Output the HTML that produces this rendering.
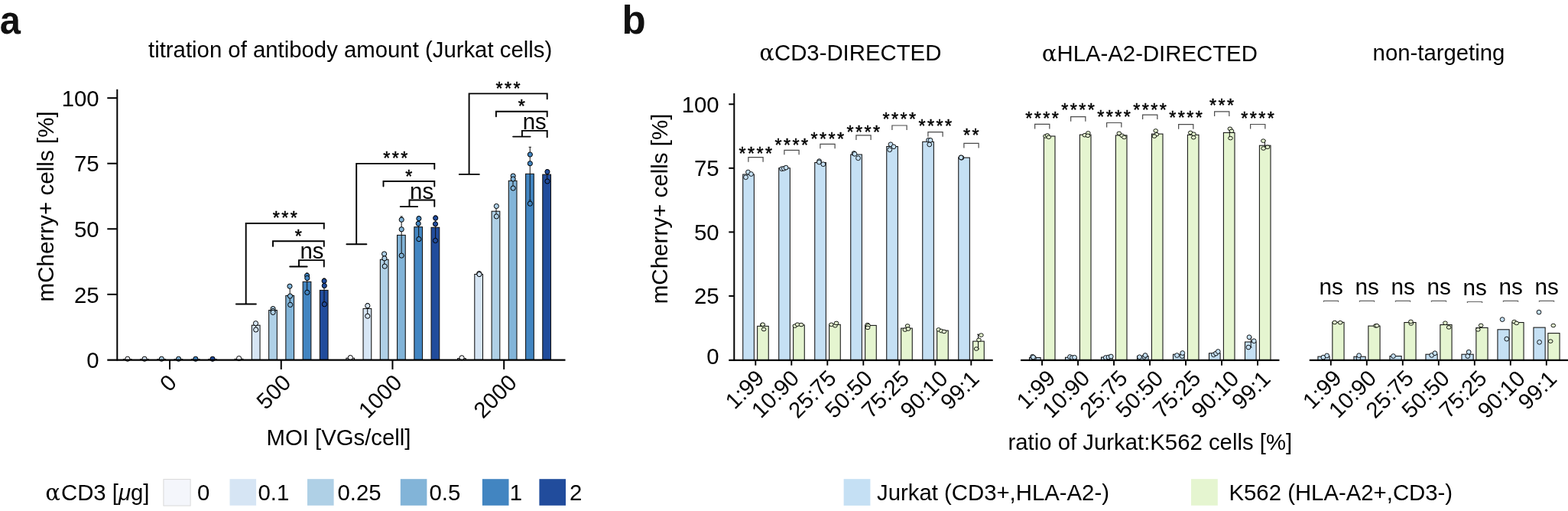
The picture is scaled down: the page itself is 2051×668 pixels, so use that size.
<!DOCTYPE html>
<html><head><meta charset="utf-8"><title>figure</title>
<style>
html,body{margin:0;padding:0;background:#fff;}
body{width:2051px;height:668px;overflow:hidden;}
svg{display:block;font-family:"Liberation Sans",sans-serif;fill:#000;}
</style></head><body>
<svg width="2051" height="668" viewBox="0 0 2051 668">
<rect width="2051" height="668" fill="#fff"/>
<text transform="translate(-0.2,43.9) scale(0.95,1)" font-size="51.5" font-weight="bold" fill="#111">a</text>
<text x="458.10" y="74.80" text-anchor="middle" font-size="29.33">titration of antibody amount (Jurkat cells)</text>
<line x1="153.30" y1="116.80" x2="153.30" y2="471.40" stroke="#000" stroke-width="2" stroke-linecap="butt"/>
<text x="129.60" y="481.10" text-anchor="end" font-size="29.33">0</text>
<line x1="140.30" y1="384.84" x2="153.30" y2="384.84" stroke="#000" stroke-width="2" stroke-linecap="butt"/>
<text x="129.60" y="395.54" text-anchor="end" font-size="29.33">25</text>
<line x1="140.30" y1="299.27" x2="153.30" y2="299.27" stroke="#000" stroke-width="2" stroke-linecap="butt"/>
<text x="129.60" y="309.97" text-anchor="end" font-size="29.33">50</text>
<line x1="140.30" y1="213.71" x2="153.30" y2="213.71" stroke="#000" stroke-width="2" stroke-linecap="butt"/>
<text x="129.60" y="224.41" text-anchor="end" font-size="29.33">75</text>
<line x1="140.30" y1="128.15" x2="153.30" y2="128.15" stroke="#000" stroke-width="2" stroke-linecap="butt"/>
<text x="129.60" y="138.85" text-anchor="end" font-size="29.33">100</text>
<line x1="222.00" y1="470.40" x2="222.00" y2="482.90" stroke="#000" stroke-width="2" stroke-linecap="butt"/>
<text transform="translate(217.95,487.10) rotate(-45)" text-anchor="end" font-size="29.33" dy="0.72em">0</text>
<line x1="367.75" y1="470.40" x2="367.75" y2="482.90" stroke="#000" stroke-width="2" stroke-linecap="butt"/>
<text transform="translate(367.30,487.10) rotate(-45)" text-anchor="end" font-size="29.33" dy="0.72em">500</text>
<line x1="513.45" y1="470.40" x2="513.45" y2="482.90" stroke="#000" stroke-width="2" stroke-linecap="butt"/>
<text transform="translate(512.50,487.10) rotate(-45)" text-anchor="end" font-size="29.33" dy="0.72em">1000</text>
<line x1="659.20" y1="470.40" x2="659.20" y2="482.90" stroke="#000" stroke-width="2" stroke-linecap="butt"/>
<text transform="translate(662.95,487.10) rotate(-45)" text-anchor="end" font-size="29.33" dy="0.72em">2000</text>
<text transform="translate(69.50,269.90) rotate(-90)" text-anchor="middle" font-size="29.6">mCherry+ cells [%]</text>
<text x="443.00" y="581.60" text-anchor="middle" font-size="29.33">MOI [VGs/cell]</text>
<rect x="161.40" y="469.60" width="10.70" height="0.80" fill="#F4F6FB" stroke="#111" stroke-width="1.05"/>
<circle cx="166.85" cy="469.20" r="3.1" fill="#F4F6FB" stroke="#000" stroke-width="1.0"/>
<rect x="183.60" y="469.60" width="10.70" height="0.80" fill="#D6E5F4" stroke="#111" stroke-width="1.05"/>
<circle cx="189.05" cy="469.20" r="3.1" fill="#D6E5F4" stroke="#000" stroke-width="1.0"/>
<rect x="205.90" y="469.60" width="10.70" height="0.80" fill="#AFD0E6" stroke="#111" stroke-width="1.05"/>
<circle cx="211.35" cy="469.20" r="3.1" fill="#AFD0E6" stroke="#000" stroke-width="1.0"/>
<rect x="228.10" y="469.60" width="10.70" height="0.80" fill="#82B4D8" stroke="#111" stroke-width="1.05"/>
<circle cx="233.55" cy="469.20" r="3.1" fill="#82B4D8" stroke="#000" stroke-width="1.0"/>
<rect x="250.40" y="469.60" width="10.70" height="0.80" fill="#4285C1" stroke="#111" stroke-width="1.05"/>
<circle cx="255.85" cy="469.20" r="3.1" fill="#4285C1" stroke="#000" stroke-width="1.0"/>
<rect x="272.60" y="469.60" width="10.70" height="0.80" fill="#214C9C" stroke="#111" stroke-width="1.05"/>
<circle cx="278.05" cy="469.20" r="3.1" fill="#214C9C" stroke="#000" stroke-width="1.0"/>
<rect x="307.15" y="469.30" width="10.70" height="1.10" fill="#F4F6FB" stroke="#111" stroke-width="1.05"/>
<circle cx="312.60" cy="468.50" r="3.1" fill="#F4F6FB" stroke="#000" stroke-width="1.0"/>
<rect x="329.35" y="425.20" width="10.70" height="45.20" fill="#D6E5F4" stroke="#111" stroke-width="1.05"/>
<line x1="334.70" y1="420.50" x2="334.70" y2="430.00" stroke="#111" stroke-width="1" stroke-linecap="butt"/>
<line x1="333.10" y1="420.50" x2="336.30" y2="420.50" stroke="#111" stroke-width="1" stroke-linecap="butt"/>
<line x1="333.10" y1="430.00" x2="336.30" y2="430.00" stroke="#111" stroke-width="1" stroke-linecap="butt"/>
<circle cx="334.50" cy="422.70" r="3.1" fill="#D6E5F4" stroke="#000" stroke-width="1.0"/>
<circle cx="334.70" cy="431.00" r="3.1" fill="#D6E5F4" stroke="#000" stroke-width="1.0"/>
<rect x="351.65" y="405.50" width="10.70" height="64.90" fill="#AFD0E6" stroke="#111" stroke-width="1.05"/>
<line x1="357.15" y1="403.00" x2="357.15" y2="408.00" stroke="#111" stroke-width="1" stroke-linecap="butt"/>
<line x1="355.55" y1="403.00" x2="358.75" y2="403.00" stroke="#111" stroke-width="1" stroke-linecap="butt"/>
<line x1="355.55" y1="408.00" x2="358.75" y2="408.00" stroke="#111" stroke-width="1" stroke-linecap="butt"/>
<circle cx="357.10" cy="403.60" r="3.1" fill="#AFD0E6" stroke="#000" stroke-width="1.0"/>
<circle cx="357.10" cy="406.50" r="3.1" fill="#AFD0E6" stroke="#000" stroke-width="1.0"/>
<circle cx="357.10" cy="408.40" r="3.1" fill="#AFD0E6" stroke="#000" stroke-width="1.0"/>
<rect x="373.85" y="386.40" width="10.70" height="84.00" fill="#82B4D8" stroke="#111" stroke-width="1.05"/>
<line x1="379.20" y1="374.50" x2="379.20" y2="398.00" stroke="#111" stroke-width="1" stroke-linecap="butt"/>
<line x1="377.60" y1="374.50" x2="380.80" y2="374.50" stroke="#111" stroke-width="1" stroke-linecap="butt"/>
<line x1="377.60" y1="398.00" x2="380.80" y2="398.00" stroke="#111" stroke-width="1" stroke-linecap="butt"/>
<circle cx="379.00" cy="374.20" r="3.1" fill="#82B4D8" stroke="#000" stroke-width="1.0"/>
<circle cx="379.50" cy="387.00" r="3.1" fill="#82B4D8" stroke="#000" stroke-width="1.0"/>
<circle cx="379.70" cy="398.40" r="3.1" fill="#82B4D8" stroke="#000" stroke-width="1.0"/>
<rect x="396.15" y="368.30" width="10.70" height="102.10" fill="#4285C1" stroke="#111" stroke-width="1.05"/>
<line x1="401.65" y1="357.00" x2="401.65" y2="380.00" stroke="#111" stroke-width="1" stroke-linecap="butt"/>
<line x1="400.05" y1="357.00" x2="403.25" y2="357.00" stroke="#111" stroke-width="1" stroke-linecap="butt"/>
<line x1="400.05" y1="380.00" x2="403.25" y2="380.00" stroke="#111" stroke-width="1" stroke-linecap="butt"/>
<circle cx="401.60" cy="360.30" r="3.1" fill="#4285C1" stroke="#000" stroke-width="1.0"/>
<circle cx="401.80" cy="363.50" r="3.1" fill="#4285C1" stroke="#000" stroke-width="1.0"/>
<circle cx="401.80" cy="382.30" r="3.1" fill="#4285C1" stroke="#000" stroke-width="1.0"/>
<rect x="418.35" y="379.40" width="10.70" height="91.00" fill="#214C9C" stroke="#111" stroke-width="1.05"/>
<line x1="424.00" y1="364.00" x2="424.00" y2="395.00" stroke="#111" stroke-width="1" stroke-linecap="butt"/>
<line x1="422.40" y1="364.00" x2="425.60" y2="364.00" stroke="#111" stroke-width="1" stroke-linecap="butt"/>
<line x1="422.40" y1="395.00" x2="425.60" y2="395.00" stroke="#111" stroke-width="1" stroke-linecap="butt"/>
<circle cx="424.10" cy="367.30" r="3.1" fill="#214C9C" stroke="#000" stroke-width="1.0"/>
<circle cx="424.30" cy="373.50" r="3.1" fill="#214C9C" stroke="#000" stroke-width="1.0"/>
<circle cx="424.40" cy="397.70" r="3.1" fill="#214C9C" stroke="#000" stroke-width="1.0"/>
<rect x="452.85" y="468.20" width="10.70" height="2.20" fill="#F4F6FB" stroke="#111" stroke-width="1.05"/>
<circle cx="458.30" cy="467.50" r="3.1" fill="#F4F6FB" stroke="#000" stroke-width="1.0"/>
<rect x="475.05" y="403.40" width="10.70" height="67.00" fill="#D6E5F4" stroke="#111" stroke-width="1.05"/>
<line x1="480.70" y1="396.50" x2="480.70" y2="410.50" stroke="#111" stroke-width="1" stroke-linecap="butt"/>
<line x1="479.10" y1="396.50" x2="482.30" y2="396.50" stroke="#111" stroke-width="1" stroke-linecap="butt"/>
<line x1="479.10" y1="410.50" x2="482.30" y2="410.50" stroke="#111" stroke-width="1" stroke-linecap="butt"/>
<circle cx="480.80" cy="399.70" r="3.1" fill="#D6E5F4" stroke="#000" stroke-width="1.0"/>
<circle cx="480.80" cy="413.20" r="3.1" fill="#D6E5F4" stroke="#000" stroke-width="1.0"/>
<rect x="497.35" y="339.30" width="10.70" height="131.10" fill="#AFD0E6" stroke="#111" stroke-width="1.05"/>
<line x1="502.75" y1="331.00" x2="502.75" y2="347.50" stroke="#111" stroke-width="1" stroke-linecap="butt"/>
<line x1="501.15" y1="331.00" x2="504.35" y2="331.00" stroke="#111" stroke-width="1" stroke-linecap="butt"/>
<line x1="501.15" y1="347.50" x2="504.35" y2="347.50" stroke="#111" stroke-width="1" stroke-linecap="butt"/>
<circle cx="502.60" cy="331.90" r="3.1" fill="#AFD0E6" stroke="#000" stroke-width="1.0"/>
<circle cx="502.90" cy="337.80" r="3.1" fill="#AFD0E6" stroke="#000" stroke-width="1.0"/>
<circle cx="503.20" cy="348.10" r="3.1" fill="#AFD0E6" stroke="#000" stroke-width="1.0"/>
<rect x="519.55" y="307.40" width="10.70" height="163.00" fill="#82B4D8" stroke="#111" stroke-width="1.05"/>
<line x1="525.15" y1="283.00" x2="525.15" y2="332.00" stroke="#111" stroke-width="1" stroke-linecap="butt"/>
<line x1="523.55" y1="283.00" x2="526.75" y2="283.00" stroke="#111" stroke-width="1" stroke-linecap="butt"/>
<line x1="523.55" y1="332.00" x2="526.75" y2="332.00" stroke="#111" stroke-width="1" stroke-linecap="butt"/>
<circle cx="525.20" cy="287.20" r="3.1" fill="#82B4D8" stroke="#000" stroke-width="1.0"/>
<circle cx="525.20" cy="299.80" r="3.1" fill="#82B4D8" stroke="#000" stroke-width="1.0"/>
<circle cx="525.20" cy="334.10" r="3.1" fill="#82B4D8" stroke="#000" stroke-width="1.0"/>
<rect x="541.85" y="296.70" width="10.70" height="173.70" fill="#4285C1" stroke="#111" stroke-width="1.05"/>
<line x1="547.65" y1="283.00" x2="547.65" y2="310.50" stroke="#111" stroke-width="1" stroke-linecap="butt"/>
<line x1="546.05" y1="283.00" x2="549.25" y2="283.00" stroke="#111" stroke-width="1" stroke-linecap="butt"/>
<line x1="546.05" y1="310.50" x2="549.25" y2="310.50" stroke="#111" stroke-width="1" stroke-linecap="butt"/>
<circle cx="547.90" cy="285.70" r="3.1" fill="#4285C1" stroke="#000" stroke-width="1.0"/>
<circle cx="547.20" cy="292.30" r="3.1" fill="#4285C1" stroke="#000" stroke-width="1.0"/>
<circle cx="547.90" cy="312.60" r="3.1" fill="#4285C1" stroke="#000" stroke-width="1.0"/>
<rect x="564.05" y="297.30" width="10.70" height="173.10" fill="#214C9C" stroke="#111" stroke-width="1.05"/>
<line x1="569.65" y1="282.00" x2="569.65" y2="312.50" stroke="#111" stroke-width="1" stroke-linecap="butt"/>
<line x1="568.05" y1="282.00" x2="571.25" y2="282.00" stroke="#111" stroke-width="1" stroke-linecap="butt"/>
<line x1="568.05" y1="312.50" x2="571.25" y2="312.50" stroke="#111" stroke-width="1" stroke-linecap="butt"/>
<circle cx="569.70" cy="285.10" r="3.1" fill="#214C9C" stroke="#000" stroke-width="1.0"/>
<circle cx="569.50" cy="292.80" r="3.1" fill="#214C9C" stroke="#000" stroke-width="1.0"/>
<circle cx="569.50" cy="314.50" r="3.1" fill="#214C9C" stroke="#000" stroke-width="1.0"/>
<rect x="598.60" y="468.60" width="10.70" height="1.80" fill="#F4F6FB" stroke="#111" stroke-width="1.05"/>
<circle cx="604.05" cy="467.80" r="3.1" fill="#F4F6FB" stroke="#000" stroke-width="1.0"/>
<rect x="620.80" y="358.50" width="10.70" height="111.90" fill="#D6E5F4" stroke="#111" stroke-width="1.05"/>
<circle cx="626.75" cy="357.60" r="3.1" fill="#D6E5F4" stroke="#000" stroke-width="1.0"/>
<circle cx="626.95" cy="358.60" r="3.1" fill="#D6E5F4" stroke="#000" stroke-width="1.0"/>
<rect x="643.10" y="276.20" width="10.70" height="194.20" fill="#AFD0E6" stroke="#111" stroke-width="1.05"/>
<line x1="649.00" y1="269.00" x2="649.00" y2="283.00" stroke="#111" stroke-width="1" stroke-linecap="butt"/>
<line x1="647.40" y1="269.00" x2="650.60" y2="269.00" stroke="#111" stroke-width="1" stroke-linecap="butt"/>
<line x1="647.40" y1="283.00" x2="650.60" y2="283.00" stroke="#111" stroke-width="1" stroke-linecap="butt"/>
<circle cx="649.35" cy="269.50" r="3.1" fill="#AFD0E6" stroke="#000" stroke-width="1.0"/>
<circle cx="649.35" cy="282.90" r="3.1" fill="#AFD0E6" stroke="#000" stroke-width="1.0"/>
<rect x="665.30" y="236.30" width="10.70" height="234.10" fill="#82B4D8" stroke="#111" stroke-width="1.05"/>
<line x1="671.00" y1="228.00" x2="671.00" y2="245.00" stroke="#111" stroke-width="1" stroke-linecap="butt"/>
<line x1="669.40" y1="228.00" x2="672.60" y2="228.00" stroke="#111" stroke-width="1" stroke-linecap="butt"/>
<line x1="669.40" y1="245.00" x2="672.60" y2="245.00" stroke="#111" stroke-width="1" stroke-linecap="butt"/>
<circle cx="671.15" cy="230.00" r="3.1" fill="#82B4D8" stroke="#000" stroke-width="1.0"/>
<circle cx="671.15" cy="234.00" r="3.1" fill="#82B4D8" stroke="#000" stroke-width="1.0"/>
<circle cx="671.15" cy="246.00" r="3.1" fill="#82B4D8" stroke="#000" stroke-width="1.0"/>
<rect x="687.60" y="227.30" width="10.70" height="243.10" fill="#4285C1" stroke="#111" stroke-width="1.05"/>
<line x1="693.25" y1="192.30" x2="693.25" y2="262.00" stroke="#111" stroke-width="1" stroke-linecap="butt"/>
<line x1="691.65" y1="192.30" x2="694.85" y2="192.30" stroke="#111" stroke-width="1" stroke-linecap="butt"/>
<line x1="691.65" y1="262.00" x2="694.85" y2="262.00" stroke="#111" stroke-width="1" stroke-linecap="butt"/>
<circle cx="693.35" cy="202.00" r="3.1" fill="#4285C1" stroke="#000" stroke-width="1.0"/>
<circle cx="693.35" cy="213.70" r="3.1" fill="#4285C1" stroke="#000" stroke-width="1.0"/>
<circle cx="693.35" cy="266.20" r="3.1" fill="#4285C1" stroke="#000" stroke-width="1.0"/>
<rect x="709.80" y="228.10" width="10.70" height="242.30" fill="#214C9C" stroke="#111" stroke-width="1.05"/>
<line x1="715.65" y1="222.00" x2="715.65" y2="234.50" stroke="#111" stroke-width="1" stroke-linecap="butt"/>
<line x1="714.05" y1="222.00" x2="717.25" y2="222.00" stroke="#111" stroke-width="1" stroke-linecap="butt"/>
<line x1="714.05" y1="234.50" x2="717.25" y2="234.50" stroke="#111" stroke-width="1" stroke-linecap="butt"/>
<circle cx="715.95" cy="224.60" r="3.1" fill="#214C9C" stroke="#000" stroke-width="1.0"/>
<circle cx="715.95" cy="237.00" r="3.1" fill="#214C9C" stroke="#000" stroke-width="1.0"/>
<line x1="140.30" y1="470.70" x2="739.50" y2="470.70" stroke="#000" stroke-width="2.2" stroke-linecap="butt"/>
<path d="M423.80,298.80 V292.00 H321.70 V397.50 M308.90,397.50 H334.90" stroke="#000" stroke-width="1.9" fill="none" stroke-linecap="round" stroke-linejoin="miter"/>
<path d="M423.80,321.90 V315.30 H357.00 V321.90" stroke="#000" stroke-width="1.9" fill="none" stroke-linecap="round" stroke-linejoin="miter"/>
<path d="M423.80,348.50 V340.10 H391.00 V348.50 M379.20,348.50 H401.70" stroke="#000" stroke-width="1.9" fill="none" stroke-linecap="round" stroke-linejoin="miter"/>
<text x="356.71 368.21 379.71" y="293.47" font-size="23.3" stroke="#000" stroke-width="0.5">***</text>
<text x="385.86" y="316.97" font-size="23.3" stroke="#000" stroke-width="0.5">*</text>
<text x="408.00" y="338.20" text-anchor="middle" font-size="29.33">ns</text>
<path d="M568.30,220.70 V213.90 H466.20 V319.20 M453.40,319.20 H479.40" stroke="#000" stroke-width="1.9" fill="none" stroke-linecap="round" stroke-linejoin="miter"/>
<path d="M568.30,243.60 V237.00 H501.50 V243.60" stroke="#000" stroke-width="1.9" fill="none" stroke-linecap="round" stroke-linejoin="miter"/>
<path d="M568.30,269.90 V261.50 H535.50 V270.10 M523.70,270.10 H546.20" stroke="#000" stroke-width="1.9" fill="none" stroke-linecap="round" stroke-linejoin="miter"/>
<text x="501.21 512.71 524.21" y="215.37" font-size="23.3" stroke="#000" stroke-width="0.5">***</text>
<text x="530.36" y="238.67" font-size="23.3" stroke="#000" stroke-width="0.5">*</text>
<text x="551.60" y="259.60" text-anchor="middle" font-size="29.33">ns</text>
<path d="M715.70,129.20 V122.40 H613.60 V227.90 M600.80,227.90 H626.80" stroke="#000" stroke-width="1.9" fill="none" stroke-linecap="round" stroke-linejoin="miter"/>
<path d="M715.70,152.30 V145.70 H648.90 V152.30" stroke="#000" stroke-width="1.9" fill="none" stroke-linecap="round" stroke-linejoin="miter"/>
<path d="M715.70,179.30 V170.90 H682.90 V178.60 M671.10,178.60 H693.60" stroke="#000" stroke-width="1.9" fill="none" stroke-linecap="round" stroke-linejoin="miter"/>
<text x="648.61 660.11 671.61" y="123.87" font-size="23.3" stroke="#000" stroke-width="0.5">***</text>
<text x="677.76" y="147.37" font-size="23.3" stroke="#000" stroke-width="0.5">*</text>
<text x="699.20" y="168.60" text-anchor="middle" font-size="29.33">ns</text>
<text x="58.50" y="653.70" text-anchor="start" font-size="29.33"><tspan font-family="'DejaVu Math TeX Gyre','DejaVu Serif',serif" font-size="29">α</tspan><tspan dx="-0.5">CD3 [</tspan><tspan font-style="italic">μ</tspan>g]</text>
<rect x="213.90" y="626.60" width="35.20" height="34.50" fill="#F4F6FB" stroke="#D9D9D9" stroke-width="1"/>
<text x="258.00" y="653.70" text-anchor="start" font-size="29.33">0</text>
<rect x="300.50" y="626.20" width="34.60" height="34.60" fill="#D6E5F4"/>
<text x="337.50" y="653.70" text-anchor="start" font-size="29.33">0.1</text>
<rect x="402.00" y="626.20" width="34.60" height="34.60" fill="#AFD0E6"/>
<text x="441.50" y="653.70" text-anchor="start" font-size="29.33">0.25</text>
<rect x="523.80" y="626.20" width="34.60" height="34.60" fill="#82B4D8"/>
<text x="561.50" y="653.70" text-anchor="start" font-size="29.33">0.5</text>
<rect x="630.90" y="626.20" width="34.60" height="34.60" fill="#4285C1"/>
<text x="666.80" y="653.70" text-anchor="start" font-size="29.33">1</text>
<rect x="705.40" y="626.20" width="34.60" height="34.60" fill="#214C9C"/>
<text x="745.00" y="653.70" text-anchor="start" font-size="29.33">2</text>
<text x="813.40" y="43.70" text-anchor="start" font-size="51" font-weight="bold" fill="#111">b</text>
<line x1="960.30" y1="122.00" x2="960.30" y2="471.50" stroke="#000" stroke-width="2" stroke-linecap="butt"/>
<text x="940.60" y="475.90" text-anchor="end" font-size="29.33">0</text>
<line x1="953.30" y1="386.94" x2="960.30" y2="386.94" stroke="#000" stroke-width="2" stroke-linecap="butt"/>
<text x="940.60" y="397.34" text-anchor="end" font-size="29.33">25</text>
<line x1="953.30" y1="303.38" x2="960.30" y2="303.38" stroke="#000" stroke-width="2" stroke-linecap="butt"/>
<text x="940.60" y="313.77" text-anchor="end" font-size="29.33">50</text>
<line x1="953.30" y1="219.81" x2="960.30" y2="219.81" stroke="#000" stroke-width="2" stroke-linecap="butt"/>
<text x="940.60" y="230.21" text-anchor="end" font-size="29.33">75</text>
<line x1="953.30" y1="136.25" x2="960.30" y2="136.25" stroke="#000" stroke-width="2" stroke-linecap="butt"/>
<text x="940.60" y="146.65" text-anchor="end" font-size="29.33">100</text>
<text transform="translate(872.60,272.90) rotate(-90)" text-anchor="middle" font-size="29.55">mCherry+ cells [%]</text>
<line x1="988.30" y1="470.50" x2="988.30" y2="477.70" stroke="#000" stroke-width="1.9" stroke-linecap="butt"/>
<text transform="translate(986.40,481.00) rotate(-45)" text-anchor="end" font-size="29.33" dy="0.72em">1:99</text>
<line x1="1035.30" y1="470.50" x2="1035.30" y2="477.70" stroke="#000" stroke-width="1.9" stroke-linecap="butt"/>
<text transform="translate(1032.20,481.20) rotate(-45)" text-anchor="end" font-size="29.33" dy="0.72em">10:90</text>
<line x1="1082.30" y1="470.50" x2="1082.30" y2="477.70" stroke="#000" stroke-width="1.9" stroke-linecap="butt"/>
<text transform="translate(1080.50,481.30) rotate(-45)" text-anchor="end" font-size="29.33" dy="0.72em">25:75</text>
<line x1="1129.30" y1="470.50" x2="1129.30" y2="477.70" stroke="#000" stroke-width="1.9" stroke-linecap="butt"/>
<text transform="translate(1128.10,481.50) rotate(-45)" text-anchor="end" font-size="29.33" dy="0.72em">50:50</text>
<line x1="1176.30" y1="470.50" x2="1176.30" y2="477.70" stroke="#000" stroke-width="1.9" stroke-linecap="butt"/>
<text transform="translate(1176.20,481.50) rotate(-45)" text-anchor="end" font-size="29.33" dy="0.72em">75:25</text>
<line x1="1223.30" y1="470.50" x2="1223.30" y2="477.70" stroke="#000" stroke-width="1.9" stroke-linecap="butt"/>
<text transform="translate(1226.60,481.70) rotate(-45)" text-anchor="end" font-size="29.33" dy="0.72em">90:10</text>
<line x1="1270.30" y1="470.50" x2="1270.30" y2="477.70" stroke="#000" stroke-width="1.9" stroke-linecap="butt"/>
<text transform="translate(1267.60,482.00) rotate(-45)" text-anchor="end" font-size="29.33" dy="0.72em">99:1</text>
<line x1="1363.05" y1="470.50" x2="1363.05" y2="477.70" stroke="#000" stroke-width="1.9" stroke-linecap="butt"/>
<text transform="translate(1367.45,481.00) rotate(-45)" text-anchor="end" font-size="29.33" dy="0.72em">1:99</text>
<line x1="1410.05" y1="470.50" x2="1410.05" y2="477.70" stroke="#000" stroke-width="1.9" stroke-linecap="butt"/>
<text transform="translate(1412.45,481.20) rotate(-45)" text-anchor="end" font-size="29.33" dy="0.72em">10:90</text>
<line x1="1457.05" y1="470.50" x2="1457.05" y2="477.70" stroke="#000" stroke-width="1.9" stroke-linecap="butt"/>
<text transform="translate(1461.55,481.30) rotate(-45)" text-anchor="end" font-size="29.33" dy="0.72em">25:75</text>
<line x1="1504.05" y1="470.50" x2="1504.05" y2="477.70" stroke="#000" stroke-width="1.9" stroke-linecap="butt"/>
<text transform="translate(1508.35,481.50) rotate(-45)" text-anchor="end" font-size="29.33" dy="0.72em">50:50</text>
<line x1="1551.05" y1="470.50" x2="1551.05" y2="477.70" stroke="#000" stroke-width="1.9" stroke-linecap="butt"/>
<text transform="translate(1557.25,481.50) rotate(-45)" text-anchor="end" font-size="29.33" dy="0.72em">75:25</text>
<line x1="1598.05" y1="470.50" x2="1598.05" y2="477.70" stroke="#000" stroke-width="1.9" stroke-linecap="butt"/>
<text transform="translate(1607.45,481.70) rotate(-45)" text-anchor="end" font-size="29.33" dy="0.72em">90:10</text>
<line x1="1645.05" y1="470.50" x2="1645.05" y2="477.70" stroke="#000" stroke-width="1.9" stroke-linecap="butt"/>
<text transform="translate(1648.65,482.00) rotate(-45)" text-anchor="end" font-size="29.33" dy="0.72em">99:1</text>
<line x1="1740.80" y1="470.50" x2="1740.80" y2="477.70" stroke="#000" stroke-width="1.9" stroke-linecap="butt"/>
<text transform="translate(1741.70,481.00) rotate(-45)" text-anchor="end" font-size="29.33" dy="0.72em">1:99</text>
<line x1="1787.80" y1="470.50" x2="1787.80" y2="477.70" stroke="#000" stroke-width="1.9" stroke-linecap="butt"/>
<text transform="translate(1787.20,481.20) rotate(-45)" text-anchor="end" font-size="29.33" dy="0.72em">10:90</text>
<line x1="1834.80" y1="470.50" x2="1834.80" y2="477.70" stroke="#000" stroke-width="1.9" stroke-linecap="butt"/>
<text transform="translate(1835.80,481.30) rotate(-45)" text-anchor="end" font-size="29.33" dy="0.72em">25:75</text>
<line x1="1881.80" y1="470.50" x2="1881.80" y2="477.70" stroke="#000" stroke-width="1.9" stroke-linecap="butt"/>
<text transform="translate(1882.80,481.50) rotate(-45)" text-anchor="end" font-size="29.33" dy="0.72em">50:50</text>
<line x1="1928.80" y1="470.50" x2="1928.80" y2="477.70" stroke="#000" stroke-width="1.9" stroke-linecap="butt"/>
<text transform="translate(1931.70,481.50) rotate(-45)" text-anchor="end" font-size="29.33" dy="0.72em">75:25</text>
<line x1="1975.80" y1="470.50" x2="1975.80" y2="477.70" stroke="#000" stroke-width="1.9" stroke-linecap="butt"/>
<text transform="translate(1981.90,481.70) rotate(-45)" text-anchor="end" font-size="29.33" dy="0.72em">90:10</text>
<line x1="2022.80" y1="470.50" x2="2022.80" y2="477.70" stroke="#000" stroke-width="1.9" stroke-linecap="butt"/>
<text transform="translate(2023.10,482.00) rotate(-45)" text-anchor="end" font-size="29.33" dy="0.72em">99:1</text>
<text x="992.60" y="79.45" text-anchor="start" font-size="29.33"><tspan font-family="'DejaVu Math TeX Gyre','DejaVu Serif',serif" font-size="29">α</tspan><tspan dx="-1.6">CD3-DIRECTED</tspan></text>
<text x="1362.10" y="79.55" text-anchor="start" font-size="29.33"><tspan font-family="'DejaVu Math TeX Gyre','DejaVu Serif',serif" font-size="29">α</tspan><tspan dx="-1.6">HLA-A2-DIRECTED</tspan></text>
<text x="1882.00" y="78.80" text-anchor="middle" font-size="29.33">non-targeting</text>
<text x="1504.30" y="587.50" text-anchor="middle" font-size="29.33">ratio of Jurkat:K562 cells [%]</text>
<rect x="971.75" y="228.00" width="14.60" height="242.50" fill="#C5E0F4" stroke="#111" stroke-width="1.05"/>
<rect x="990.65" y="426.35" width="14.60" height="44.15" fill="#E5F5D0" stroke="#111" stroke-width="1.05"/>
<ellipse cx="975.50" cy="231.75" rx="2.9" ry="2.9" fill="#C5E0F4" stroke="#000" stroke-width="0.9"/>
<ellipse cx="978.50" cy="225.00" rx="2.9" ry="2.9" fill="#C5E0F4" stroke="#000" stroke-width="0.9"/>
<ellipse cx="982.50" cy="227.50" rx="2.9" ry="2.9" fill="#C5E0F4" stroke="#000" stroke-width="0.9"/>
<ellipse cx="997.30" cy="424.70" rx="2.85" ry="2.3" fill="#E5F5D0" stroke="#000" stroke-width="0.9"/>
<ellipse cx="997.70" cy="424.20" rx="2.85" ry="2.3" fill="#E5F5D0" stroke="#000" stroke-width="0.9"/>
<ellipse cx="999.10" cy="430.50" rx="2.85" ry="2.3" fill="#E5F5D0" stroke="#000" stroke-width="0.9"/>
<path d="M978.90,211.70 V205.70 H998.10 V211.70" stroke="#4a4a4a" stroke-width="1.2" fill="none" stroke-linejoin="miter"/>
<text x="966.51 978.01 989.51 1001.01" y="208.87" font-size="23.3" stroke="#000" stroke-width="0.5">****</text>
<rect x="1018.75" y="219.70" width="14.60" height="250.80" fill="#C5E0F4" stroke="#111" stroke-width="1.05"/>
<rect x="1037.65" y="424.90" width="14.60" height="45.60" fill="#E5F5D0" stroke="#111" stroke-width="1.05"/>
<ellipse cx="1022.60" cy="220.70" rx="2.9" ry="2.9" fill="#C5E0F4" stroke="#000" stroke-width="0.9"/>
<ellipse cx="1025.30" cy="220.30" rx="2.9" ry="2.9" fill="#C5E0F4" stroke="#000" stroke-width="0.9"/>
<ellipse cx="1028.10" cy="219.10" rx="2.9" ry="2.9" fill="#C5E0F4" stroke="#000" stroke-width="0.9"/>
<ellipse cx="1039.80" cy="426.10" rx="2.85" ry="2.3" fill="#E5F5D0" stroke="#000" stroke-width="0.9"/>
<ellipse cx="1043.05" cy="424.20" rx="2.85" ry="2.3" fill="#E5F5D0" stroke="#000" stroke-width="0.9"/>
<ellipse cx="1048.00" cy="424.55" rx="2.85" ry="2.3" fill="#E5F5D0" stroke="#000" stroke-width="0.9"/>
<path d="M1025.90,202.30 V196.30 H1045.10 V202.30" stroke="#4a4a4a" stroke-width="1.2" fill="none" stroke-linejoin="miter"/>
<text x="1013.51 1025.01 1036.51 1048.01" y="197.57" font-size="23.3" stroke="#000" stroke-width="0.5">****</text>
<rect x="1065.75" y="212.50" width="14.60" height="258.00" fill="#C5E0F4" stroke="#111" stroke-width="1.05"/>
<rect x="1084.65" y="424.30" width="14.60" height="46.20" fill="#E5F5D0" stroke="#111" stroke-width="1.05"/>
<ellipse cx="1071.60" cy="210.60" rx="2.9" ry="2.9" fill="#C5E0F4" stroke="#000" stroke-width="0.9"/>
<ellipse cx="1071.40" cy="212.00" rx="2.9" ry="2.9" fill="#C5E0F4" stroke="#000" stroke-width="0.9"/>
<ellipse cx="1076.80" cy="214.70" rx="2.9" ry="2.9" fill="#C5E0F4" stroke="#000" stroke-width="0.9"/>
<ellipse cx="1087.40" cy="424.30" rx="2.85" ry="2.3" fill="#E5F5D0" stroke="#000" stroke-width="0.9"/>
<ellipse cx="1092.40" cy="425.75" rx="2.85" ry="2.3" fill="#E5F5D0" stroke="#000" stroke-width="0.9"/>
<ellipse cx="1094.00" cy="422.40" rx="2.85" ry="2.3" fill="#E5F5D0" stroke="#000" stroke-width="0.9"/>
<path d="M1072.90,194.30 V188.30 H1092.10 V194.30" stroke="#4a4a4a" stroke-width="1.2" fill="none" stroke-linejoin="miter"/>
<text x="1060.51 1072.01 1083.51 1095.01" y="189.97" font-size="23.3" stroke="#000" stroke-width="0.5">****</text>
<rect x="1112.75" y="202.00" width="14.60" height="268.50" fill="#C5E0F4" stroke="#111" stroke-width="1.05"/>
<rect x="1131.65" y="425.40" width="14.60" height="45.10" fill="#E5F5D0" stroke="#111" stroke-width="1.05"/>
<ellipse cx="1117.00" cy="200.50" rx="2.9" ry="2.9" fill="#C5E0F4" stroke="#000" stroke-width="0.9"/>
<ellipse cx="1118.00" cy="201.30" rx="2.9" ry="2.9" fill="#C5E0F4" stroke="#000" stroke-width="0.9"/>
<ellipse cx="1122.50" cy="206.75" rx="2.9" ry="2.9" fill="#C5E0F4" stroke="#000" stroke-width="0.9"/>
<ellipse cx="1134.70" cy="424.55" rx="2.85" ry="2.3" fill="#E5F5D0" stroke="#000" stroke-width="0.9"/>
<ellipse cx="1135.60" cy="425.75" rx="2.85" ry="2.3" fill="#E5F5D0" stroke="#000" stroke-width="0.9"/>
<ellipse cx="1135.00" cy="428.40" rx="2.85" ry="2.3" fill="#E5F5D0" stroke="#000" stroke-width="0.9"/>
<path d="M1119.90,182.90 V176.90 H1139.10 V182.90" stroke="#4a4a4a" stroke-width="1.2" fill="none" stroke-linejoin="miter"/>
<text x="1107.51 1119.01 1130.51 1142.01" y="180.77" font-size="23.3" stroke="#000" stroke-width="0.5">****</text>
<rect x="1159.75" y="191.50" width="14.60" height="279.00" fill="#C5E0F4" stroke="#111" stroke-width="1.05"/>
<rect x="1178.65" y="429.10" width="14.60" height="41.40" fill="#E5F5D0" stroke="#111" stroke-width="1.05"/>
<ellipse cx="1165.00" cy="188.75" rx="2.9" ry="2.9" fill="#C5E0F4" stroke="#000" stroke-width="0.9"/>
<ellipse cx="1169.00" cy="191.75" rx="2.9" ry="2.9" fill="#C5E0F4" stroke="#000" stroke-width="0.9"/>
<ellipse cx="1163.75" cy="195.75" rx="2.9" ry="2.9" fill="#C5E0F4" stroke="#000" stroke-width="0.9"/>
<ellipse cx="1187.10" cy="426.00" rx="2.85" ry="2.3" fill="#E5F5D0" stroke="#000" stroke-width="0.9"/>
<ellipse cx="1183.80" cy="431.10" rx="2.85" ry="2.3" fill="#E5F5D0" stroke="#000" stroke-width="0.9"/>
<ellipse cx="1188.00" cy="430.00" rx="2.85" ry="2.3" fill="#E5F5D0" stroke="#000" stroke-width="0.9"/>
<path d="M1166.90,170.00 V164.00 H1186.10 V170.00" stroke="#4a4a4a" stroke-width="1.2" fill="none" stroke-linejoin="miter"/>
<text x="1154.51 1166.01 1177.51 1189.01" y="164.47" font-size="23.3" stroke="#000" stroke-width="0.5">****</text>
<rect x="1206.75" y="185.30" width="14.60" height="285.20" fill="#C5E0F4" stroke="#111" stroke-width="1.05"/>
<rect x="1225.65" y="432.10" width="14.60" height="38.40" fill="#E5F5D0" stroke="#111" stroke-width="1.05"/>
<ellipse cx="1214.55" cy="183.10" rx="2.9" ry="2.9" fill="#C5E0F4" stroke="#000" stroke-width="0.9"/>
<ellipse cx="1217.00" cy="183.30" rx="2.9" ry="2.9" fill="#C5E0F4" stroke="#000" stroke-width="0.9"/>
<ellipse cx="1215.75" cy="188.90" rx="2.9" ry="2.9" fill="#C5E0F4" stroke="#000" stroke-width="0.9"/>
<ellipse cx="1227.70" cy="430.90" rx="2.85" ry="2.3" fill="#E5F5D0" stroke="#000" stroke-width="0.9"/>
<ellipse cx="1231.30" cy="432.60" rx="2.85" ry="2.3" fill="#E5F5D0" stroke="#000" stroke-width="0.9"/>
<ellipse cx="1234.90" cy="433.50" rx="2.85" ry="2.3" fill="#E5F5D0" stroke="#000" stroke-width="0.9"/>
<path d="M1213.90,178.70 V172.70 H1233.10 V178.70" stroke="#4a4a4a" stroke-width="1.2" fill="none" stroke-linejoin="miter"/>
<text x="1201.51 1213.01 1224.51 1236.01" y="172.87" font-size="23.3" stroke="#000" stroke-width="0.5">****</text>
<rect x="1253.75" y="206.10" width="14.60" height="264.40" fill="#C5E0F4" stroke="#111" stroke-width="1.05"/>
<rect x="1272.65" y="446.10" width="14.60" height="24.40" fill="#E5F5D0" stroke="#111" stroke-width="1.05"/>
<line x1="1279.50" y1="437.20" x2="1279.50" y2="456.00" stroke="#111" stroke-width="1" stroke-linecap="butt"/>
<line x1="1278.10" y1="437.20" x2="1280.90" y2="437.20" stroke="#111" stroke-width="1" stroke-linecap="butt"/>
<line x1="1278.10" y1="456.00" x2="1280.90" y2="456.00" stroke="#111" stroke-width="1" stroke-linecap="butt"/>
<ellipse cx="1256.90" cy="205.90" rx="2.9" ry="2.9" fill="#C5E0F4" stroke="#000" stroke-width="0.9"/>
<ellipse cx="1257.90" cy="206.20" rx="2.9" ry="2.9" fill="#C5E0F4" stroke="#000" stroke-width="0.9"/>
<ellipse cx="1257.10" cy="205.90" rx="2.9" ry="2.9" fill="#C5E0F4" stroke="#000" stroke-width="0.9"/>
<ellipse cx="1283.40" cy="438.10" rx="2.85" ry="2.3" fill="#E5F5D0" stroke="#000" stroke-width="0.9"/>
<ellipse cx="1280.40" cy="444.30" rx="2.85" ry="2.3" fill="#E5F5D0" stroke="#000" stroke-width="0.9"/>
<ellipse cx="1277.10" cy="456.00" rx="2.85" ry="2.3" fill="#E5F5D0" stroke="#000" stroke-width="0.9"/>
<path d="M1260.90,193.40 V187.40 H1280.10 V193.40" stroke="#4a4a4a" stroke-width="1.2" fill="none" stroke-linejoin="miter"/>
<text x="1260.01 1271.51" y="184.67" font-size="23.3" stroke="#000" stroke-width="0.5">**</text>
<line x1="953.30" y1="470.85" x2="1298.70" y2="470.85" stroke="#000" stroke-width="2.3" stroke-linecap="butt"/>
<rect x="1346.50" y="467.50" width="14.60" height="3.00" fill="#C5E0F4" stroke="#111" stroke-width="1.05"/>
<rect x="1365.40" y="178.00" width="14.60" height="292.50" fill="#E5F5D0" stroke="#111" stroke-width="1.05"/>
<ellipse cx="1350.50" cy="466.25" rx="2.9" ry="2.9" fill="#C5E0F4" stroke="#000" stroke-width="0.9"/>
<ellipse cx="1352.50" cy="468.00" rx="2.9" ry="2.9" fill="#C5E0F4" stroke="#000" stroke-width="0.9"/>
<ellipse cx="1351.50" cy="467.00" rx="2.9" ry="2.9" fill="#C5E0F4" stroke="#000" stroke-width="0.9"/>
<ellipse cx="1367.50" cy="178.00" rx="2.85" ry="2.3" fill="#E5F5D0" stroke="#000" stroke-width="0.9"/>
<ellipse cx="1370.00" cy="177.00" rx="2.85" ry="2.3" fill="#E5F5D0" stroke="#000" stroke-width="0.9"/>
<ellipse cx="1371.75" cy="179.25" rx="2.85" ry="2.3" fill="#E5F5D0" stroke="#000" stroke-width="0.9"/>
<path d="M1353.65,168.40 V162.40 H1372.85 V168.40" stroke="#4a4a4a" stroke-width="1.2" fill="none" stroke-linejoin="miter"/>
<text x="1341.26 1352.76 1364.26 1375.76" y="162.77" font-size="23.3" stroke="#000" stroke-width="0.5">****</text>
<rect x="1393.50" y="467.25" width="14.60" height="3.25" fill="#C5E0F4" stroke="#111" stroke-width="1.05"/>
<rect x="1412.40" y="176.10" width="14.60" height="294.40" fill="#E5F5D0" stroke="#111" stroke-width="1.05"/>
<ellipse cx="1399.50" cy="466.50" rx="2.9" ry="2.9" fill="#C5E0F4" stroke="#000" stroke-width="0.9"/>
<ellipse cx="1402.50" cy="467.50" rx="2.9" ry="2.9" fill="#C5E0F4" stroke="#000" stroke-width="0.9"/>
<ellipse cx="1405.50" cy="467.25" rx="2.9" ry="2.9" fill="#C5E0F4" stroke="#000" stroke-width="0.9"/>
<ellipse cx="1418.90" cy="176.70" rx="2.85" ry="2.3" fill="#E5F5D0" stroke="#000" stroke-width="0.9"/>
<ellipse cx="1423.35" cy="173.90" rx="2.85" ry="2.3" fill="#E5F5D0" stroke="#000" stroke-width="0.9"/>
<ellipse cx="1422.90" cy="177.30" rx="2.85" ry="2.3" fill="#E5F5D0" stroke="#000" stroke-width="0.9"/>
<path d="M1400.65,158.70 V152.70 H1419.85 V158.70" stroke="#4a4a4a" stroke-width="1.2" fill="none" stroke-linejoin="miter"/>
<text x="1388.26 1399.76 1411.26 1422.76" y="152.37" font-size="23.3" stroke="#000" stroke-width="0.5">****</text>
<rect x="1440.50" y="467.00" width="14.60" height="3.50" fill="#C5E0F4" stroke="#111" stroke-width="1.05"/>
<rect x="1459.40" y="176.90" width="14.60" height="293.60" fill="#E5F5D0" stroke="#111" stroke-width="1.05"/>
<ellipse cx="1446.25" cy="467.50" rx="2.9" ry="2.9" fill="#C5E0F4" stroke="#000" stroke-width="0.9"/>
<ellipse cx="1450.00" cy="467.00" rx="2.9" ry="2.9" fill="#C5E0F4" stroke="#000" stroke-width="0.9"/>
<ellipse cx="1453.25" cy="466.00" rx="2.9" ry="2.9" fill="#C5E0F4" stroke="#000" stroke-width="0.9"/>
<ellipse cx="1463.80" cy="174.30" rx="2.85" ry="2.3" fill="#E5F5D0" stroke="#000" stroke-width="0.9"/>
<ellipse cx="1467.70" cy="177.30" rx="2.85" ry="2.3" fill="#E5F5D0" stroke="#000" stroke-width="0.9"/>
<ellipse cx="1470.40" cy="179.40" rx="2.85" ry="2.3" fill="#E5F5D0" stroke="#000" stroke-width="0.9"/>
<path d="M1447.65,166.50 V160.50 H1466.85 V166.50" stroke="#4a4a4a" stroke-width="1.2" fill="none" stroke-linejoin="miter"/>
<text x="1435.26 1446.76 1458.26 1469.76" y="160.67" font-size="23.3" stroke="#000" stroke-width="0.5">****</text>
<rect x="1487.50" y="465.50" width="14.60" height="5.00" fill="#C5E0F4" stroke="#111" stroke-width="1.05"/>
<rect x="1506.40" y="175.10" width="14.60" height="295.40" fill="#E5F5D0" stroke="#111" stroke-width="1.05"/>
<ellipse cx="1490.50" cy="466.75" rx="2.9" ry="2.9" fill="#C5E0F4" stroke="#000" stroke-width="0.9"/>
<ellipse cx="1496.75" cy="466.50" rx="2.9" ry="2.9" fill="#C5E0F4" stroke="#000" stroke-width="0.9"/>
<ellipse cx="1498.00" cy="464.50" rx="2.9" ry="2.9" fill="#C5E0F4" stroke="#000" stroke-width="0.9"/>
<ellipse cx="1511.70" cy="170.90" rx="2.85" ry="2.3" fill="#E5F5D0" stroke="#000" stroke-width="0.9"/>
<ellipse cx="1512.90" cy="175.70" rx="2.85" ry="2.3" fill="#E5F5D0" stroke="#000" stroke-width="0.9"/>
<ellipse cx="1509.90" cy="178.10" rx="2.85" ry="2.3" fill="#E5F5D0" stroke="#000" stroke-width="0.9"/>
<path d="M1494.65,156.10 V150.10 H1513.85 V156.10" stroke="#4a4a4a" stroke-width="1.2" fill="none" stroke-linejoin="miter"/>
<text x="1482.26 1493.76 1505.26 1516.76" y="152.42" font-size="23.3" stroke="#000" stroke-width="0.5">****</text>
<rect x="1534.50" y="463.25" width="14.60" height="7.25" fill="#C5E0F4" stroke="#111" stroke-width="1.05"/>
<rect x="1553.40" y="176.30" width="14.60" height="294.20" fill="#E5F5D0" stroke="#111" stroke-width="1.05"/>
<ellipse cx="1539.50" cy="464.50" rx="2.9" ry="2.9" fill="#C5E0F4" stroke="#000" stroke-width="0.9"/>
<ellipse cx="1546.25" cy="465.50" rx="2.9" ry="2.9" fill="#C5E0F4" stroke="#000" stroke-width="0.9"/>
<ellipse cx="1546.75" cy="461.50" rx="2.9" ry="2.9" fill="#C5E0F4" stroke="#000" stroke-width="0.9"/>
<ellipse cx="1557.25" cy="173.40" rx="2.85" ry="2.3" fill="#E5F5D0" stroke="#000" stroke-width="0.9"/>
<ellipse cx="1561.40" cy="175.20" rx="2.85" ry="2.3" fill="#E5F5D0" stroke="#000" stroke-width="0.9"/>
<ellipse cx="1561.20" cy="179.70" rx="2.85" ry="2.3" fill="#E5F5D0" stroke="#000" stroke-width="0.9"/>
<path d="M1541.65,168.70 V162.70 H1560.85 V168.70" stroke="#4a4a4a" stroke-width="1.2" fill="none" stroke-linejoin="miter"/>
<text x="1529.26 1540.76 1552.26 1563.76" y="161.87" font-size="23.3" stroke="#000" stroke-width="0.5">****</text>
<rect x="1581.50" y="461.75" width="14.60" height="8.75" fill="#C5E0F4" stroke="#111" stroke-width="1.05"/>
<rect x="1600.40" y="173.40" width="14.60" height="297.10" fill="#E5F5D0" stroke="#111" stroke-width="1.05"/>
<line x1="1608.30" y1="168.00" x2="1608.30" y2="180.00" stroke="#111" stroke-width="1" stroke-linecap="butt"/>
<line x1="1606.90" y1="168.00" x2="1609.70" y2="168.00" stroke="#111" stroke-width="1" stroke-linecap="butt"/>
<line x1="1606.90" y1="180.00" x2="1609.70" y2="180.00" stroke="#111" stroke-width="1" stroke-linecap="butt"/>
<ellipse cx="1587.50" cy="463.75" rx="2.9" ry="2.9" fill="#C5E0F4" stroke="#000" stroke-width="0.9"/>
<ellipse cx="1590.50" cy="462.00" rx="2.9" ry="2.9" fill="#C5E0F4" stroke="#000" stroke-width="0.9"/>
<ellipse cx="1593.25" cy="459.50" rx="2.9" ry="2.9" fill="#C5E0F4" stroke="#000" stroke-width="0.9"/>
<ellipse cx="1608.90" cy="168.30" rx="2.85" ry="2.3" fill="#E5F5D0" stroke="#000" stroke-width="0.9"/>
<ellipse cx="1611.00" cy="171.30" rx="2.85" ry="2.3" fill="#E5F5D0" stroke="#000" stroke-width="0.9"/>
<ellipse cx="1609.50" cy="180.60" rx="2.85" ry="2.3" fill="#E5F5D0" stroke="#000" stroke-width="0.9"/>
<path d="M1588.65,151.90 V145.90 H1607.85 V151.90" stroke="#4a4a4a" stroke-width="1.2" fill="none" stroke-linejoin="miter"/>
<text x="1582.01 1593.51 1605.01" y="145.87" font-size="23.3" stroke="#000" stroke-width="0.5">***</text>
<rect x="1628.50" y="447.00" width="14.60" height="23.50" fill="#C5E0F4" stroke="#111" stroke-width="1.05"/>
<rect x="1647.40" y="190.20" width="14.60" height="280.30" fill="#E5F5D0" stroke="#111" stroke-width="1.05"/>
<line x1="1636.20" y1="441.00" x2="1636.20" y2="454.00" stroke="#111" stroke-width="1" stroke-linecap="butt"/>
<line x1="1634.80" y1="441.00" x2="1637.60" y2="441.00" stroke="#111" stroke-width="1" stroke-linecap="butt"/>
<line x1="1634.80" y1="454.00" x2="1637.60" y2="454.00" stroke="#111" stroke-width="1" stroke-linecap="butt"/>
<line x1="1654.40" y1="184.00" x2="1654.40" y2="194.00" stroke="#111" stroke-width="1" stroke-linecap="butt"/>
<line x1="1653.00" y1="184.00" x2="1655.80" y2="184.00" stroke="#111" stroke-width="1" stroke-linecap="butt"/>
<line x1="1653.00" y1="194.00" x2="1655.80" y2="194.00" stroke="#111" stroke-width="1" stroke-linecap="butt"/>
<ellipse cx="1634.00" cy="440.75" rx="2.9" ry="2.9" fill="#C5E0F4" stroke="#000" stroke-width="0.9"/>
<ellipse cx="1640.25" cy="445.75" rx="2.9" ry="2.9" fill="#C5E0F4" stroke="#000" stroke-width="0.9"/>
<ellipse cx="1633.00" cy="454.00" rx="2.9" ry="2.9" fill="#C5E0F4" stroke="#000" stroke-width="0.9"/>
<ellipse cx="1652.40" cy="184.10" rx="2.85" ry="2.3" fill="#E5F5D0" stroke="#000" stroke-width="0.9"/>
<ellipse cx="1658.00" cy="192.20" rx="2.85" ry="2.3" fill="#E5F5D0" stroke="#000" stroke-width="0.9"/>
<ellipse cx="1652.60" cy="194.00" rx="2.85" ry="2.3" fill="#E5F5D0" stroke="#000" stroke-width="0.9"/>
<path d="M1635.65,168.50 V162.50 H1654.85 V168.50" stroke="#4a4a4a" stroke-width="1.2" fill="none" stroke-linejoin="miter"/>
<text x="1623.26 1634.76 1646.26 1657.76" y="162.67" font-size="23.3" stroke="#000" stroke-width="0.5">****</text>
<line x1="1335.05" y1="470.85" x2="1673.45" y2="470.85" stroke="#000" stroke-width="2.3" stroke-linecap="butt"/>
<rect x="1723.95" y="466.10" width="15.20" height="4.40" fill="#C5E0F4" stroke="#111" stroke-width="1.05"/>
<rect x="1742.85" y="421.30" width="15.20" height="49.20" fill="#E5F5D0" stroke="#111" stroke-width="1.05"/>
<ellipse cx="1730.90" cy="467.10" rx="2.9" ry="2.9" fill="#C5E0F4" stroke="#000" stroke-width="0.9"/>
<ellipse cx="1735.70" cy="464.90" rx="2.9" ry="2.9" fill="#C5E0F4" stroke="#000" stroke-width="0.9"/>
<ellipse cx="1745.80" cy="421.50" rx="2.85" ry="2.3" fill="#E5F5D0" stroke="#000" stroke-width="0.9"/>
<ellipse cx="1753.10" cy="421.70" rx="2.85" ry="2.3" fill="#E5F5D0" stroke="#000" stroke-width="0.9"/>
<path d="M1731.40,394.80 V393.30 H1750.60 V394.80" stroke="#666" stroke-width="1.2" fill="none" stroke-linejoin="miter"/>
<text x="1741.10" y="384.90" text-anchor="middle" font-size="29.7">ns</text>
<rect x="1770.95" y="466.20" width="15.20" height="4.30" fill="#C5E0F4" stroke="#111" stroke-width="1.05"/>
<rect x="1789.85" y="426.10" width="15.20" height="44.40" fill="#E5F5D0" stroke="#111" stroke-width="1.05"/>
<ellipse cx="1776.90" cy="468.00" rx="2.9" ry="2.9" fill="#C5E0F4" stroke="#000" stroke-width="0.9"/>
<ellipse cx="1777.60" cy="464.70" rx="2.9" ry="2.9" fill="#C5E0F4" stroke="#000" stroke-width="0.9"/>
<ellipse cx="1799.40" cy="425.90" rx="2.85" ry="2.3" fill="#E5F5D0" stroke="#000" stroke-width="0.9"/>
<ellipse cx="1801.00" cy="425.70" rx="2.85" ry="2.3" fill="#E5F5D0" stroke="#000" stroke-width="0.9"/>
<path d="M1778.40,394.80 V393.30 H1797.60 V394.80" stroke="#666" stroke-width="1.2" fill="none" stroke-linejoin="miter"/>
<text x="1788.10" y="384.90" text-anchor="middle" font-size="29.7">ns</text>
<rect x="1817.95" y="465.50" width="15.20" height="5.00" fill="#C5E0F4" stroke="#111" stroke-width="1.05"/>
<rect x="1836.85" y="421.55" width="15.20" height="48.95" fill="#E5F5D0" stroke="#111" stroke-width="1.05"/>
<ellipse cx="1822.50" cy="465.50" rx="2.9" ry="2.9" fill="#C5E0F4" stroke="#000" stroke-width="0.9"/>
<ellipse cx="1845.75" cy="423.00" rx="2.85" ry="2.3" fill="#E5F5D0" stroke="#000" stroke-width="0.9"/>
<ellipse cx="1845.40" cy="420.40" rx="2.85" ry="2.3" fill="#E5F5D0" stroke="#000" stroke-width="0.9"/>
<path d="M1825.40,394.80 V393.30 H1844.60 V394.80" stroke="#666" stroke-width="1.2" fill="none" stroke-linejoin="miter"/>
<text x="1835.10" y="384.90" text-anchor="middle" font-size="29.7">ns</text>
<rect x="1864.95" y="463.20" width="15.20" height="7.30" fill="#C5E0F4" stroke="#111" stroke-width="1.05"/>
<rect x="1883.85" y="424.55" width="15.20" height="45.95" fill="#E5F5D0" stroke="#111" stroke-width="1.05"/>
<ellipse cx="1872.70" cy="464.40" rx="2.9" ry="2.9" fill="#C5E0F4" stroke="#000" stroke-width="0.9"/>
<ellipse cx="1876.90" cy="461.70" rx="2.9" ry="2.9" fill="#C5E0F4" stroke="#000" stroke-width="0.9"/>
<ellipse cx="1890.40" cy="422.20" rx="2.85" ry="2.3" fill="#E5F5D0" stroke="#000" stroke-width="0.9"/>
<ellipse cx="1895.10" cy="427.90" rx="2.85" ry="2.3" fill="#E5F5D0" stroke="#000" stroke-width="0.9"/>
<path d="M1872.40,394.80 V393.30 H1891.60 V394.80" stroke="#666" stroke-width="1.2" fill="none" stroke-linejoin="miter"/>
<text x="1882.10" y="384.90" text-anchor="middle" font-size="29.7">ns</text>
<rect x="1911.95" y="463.20" width="15.20" height="7.30" fill="#C5E0F4" stroke="#111" stroke-width="1.05"/>
<rect x="1930.85" y="428.40" width="15.20" height="42.10" fill="#E5F5D0" stroke="#111" stroke-width="1.05"/>
<ellipse cx="1919.80" cy="465.50" rx="2.9" ry="2.9" fill="#C5E0F4" stroke="#000" stroke-width="0.9"/>
<ellipse cx="1921.20" cy="460.20" rx="2.9" ry="2.9" fill="#C5E0F4" stroke="#000" stroke-width="0.9"/>
<ellipse cx="1933.30" cy="430.90" rx="2.85" ry="2.3" fill="#E5F5D0" stroke="#000" stroke-width="0.9"/>
<ellipse cx="1937.15" cy="425.40" rx="2.85" ry="2.3" fill="#E5F5D0" stroke="#000" stroke-width="0.9"/>
<path d="M1919.40,396.00 V394.50 H1938.60 V396.00" stroke="#666" stroke-width="1.2" fill="none" stroke-linejoin="miter"/>
<text x="1929.10" y="386.20" text-anchor="middle" font-size="29.7">ns</text>
<rect x="1958.95" y="430.80" width="15.20" height="39.70" fill="#C5E0F4" stroke="#111" stroke-width="1.05"/>
<rect x="1977.85" y="421.55" width="15.20" height="48.95" fill="#E5F5D0" stroke="#111" stroke-width="1.05"/>
<ellipse cx="1965.10" cy="417.60" rx="2.9" ry="2.9" fill="#C5E0F4" stroke="#000" stroke-width="0.9"/>
<ellipse cx="1970.80" cy="443.10" rx="2.9" ry="2.9" fill="#C5E0F4" stroke="#000" stroke-width="0.9"/>
<ellipse cx="1980.70" cy="420.60" rx="2.85" ry="2.3" fill="#E5F5D0" stroke="#000" stroke-width="0.9"/>
<ellipse cx="1983.70" cy="422.40" rx="2.85" ry="2.3" fill="#E5F5D0" stroke="#000" stroke-width="0.9"/>
<path d="M1966.40,394.80 V393.30 H1985.60 V394.80" stroke="#666" stroke-width="1.2" fill="none" stroke-linejoin="miter"/>
<text x="1976.10" y="384.90" text-anchor="middle" font-size="29.7">ns</text>
<rect x="2005.95" y="428.10" width="15.20" height="42.40" fill="#C5E0F4" stroke="#111" stroke-width="1.05"/>
<rect x="2024.85" y="435.60" width="15.20" height="34.90" fill="#E5F5D0" stroke="#111" stroke-width="1.05"/>
<ellipse cx="2013.00" cy="408.10" rx="2.9" ry="2.9" fill="#C5E0F4" stroke="#000" stroke-width="0.9"/>
<ellipse cx="2013.60" cy="447.30" rx="2.9" ry="2.9" fill="#C5E0F4" stroke="#000" stroke-width="0.9"/>
<ellipse cx="2031.80" cy="425.50" rx="2.85" ry="2.3" fill="#E5F5D0" stroke="#000" stroke-width="0.9"/>
<ellipse cx="2028.20" cy="446.10" rx="2.85" ry="2.3" fill="#E5F5D0" stroke="#000" stroke-width="0.9"/>
<path d="M2013.40,394.80 V393.30 H2032.60 V394.80" stroke="#666" stroke-width="1.2" fill="none" stroke-linejoin="miter"/>
<text x="2023.10" y="384.90" text-anchor="middle" font-size="29.7">ns</text>
<line x1="1712.80" y1="470.85" x2="2051.00" y2="470.85" stroke="#000" stroke-width="2.3" stroke-linecap="butt"/>
<rect x="1103.60" y="626.20" width="34.80" height="34.70" fill="#C5E0F4"/>
<text x="1147.00" y="653.90" text-anchor="start" font-size="29.33">Jurkat (CD3+,HLA-A2-)</text>
<rect x="1558.00" y="626.20" width="34.80" height="34.60" fill="#E5F5D0"/>
<text x="1607.50" y="653.90" text-anchor="start" font-size="29.33">K562 (HLA-A2+,CD3-)</text>
</svg>
</body></html>
